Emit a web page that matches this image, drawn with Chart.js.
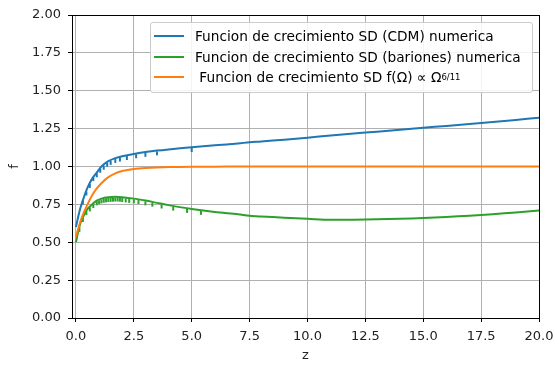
<!DOCTYPE html>
<html>
<head>
<meta charset="utf-8">
<script src="https://cdn.jsdelivr.net/npm/chart.js@4.4.1/dist/chart.umd.min.js"></script>
<style>
    html, body { margin: 0; padding: 0; background: #fff; }
    #wrap { position: relative; width: 555px; height: 367px; }
    #legend {
        position: absolute; left: 150px; top: 22px; width: 383px;
        background: rgba(255,255,255,0.85); border: 1px solid #cccccc; border-radius: 3px;
        font-family: "DejaVu Sans", sans-serif; font-size: 13.7px; color: #000;
        padding: 3px 0 4px 0; box-sizing: border-box;
    }
    .row { height: 20.5px; display: flex; align-items: center; white-space: nowrap; }
    .swatch { display: inline-block; width: 30px; height: 2px; margin: 0 11px 0 3px; }
    sup { font-size: 8.5px; vertical-align: 6px; line-height: 0; }
</style>
</head>
<body>
<div id="wrap">
    <canvas id="chart" width="555" height="367"></canvas>
    <div id="legend">
        <div class="row"><span class="swatch" style="background:#1f77b4"></span>Funcion de crecimiento SD (CDM) numerica</div>
        <div class="row"><span class="swatch" style="background:#2ca02c"></span>Funcion de crecimiento SD (bariones) numerica</div>
        <div class="row"><span class="swatch" style="background:#ff7f0e"></span>&nbsp;Funcion de crecimiento SD f(Ω) ∝ Ω<sup>6/11</sup></div>
    </div>
</div>
<script>
var zValues = [0, 0.1, 0.2, 0.35, 0.5, 0.7, 0.9, 1.1, 1.4, 1.7, 2.0, 2.5, 3.0, 3.5, 4, 5, 6, 7, 7.5, 8, 9, 10, 11, 12, 13, 14, 15, 16, 17, 18, 19, 20];

var cdmValues = [0.60, 0.67, 0.73, 0.80, 0.86, 0.92, 0.96, 1.0, 1.035, 1.055, 1.068, 1.083, 1.095, 1.105, 1.113, 1.127, 1.14, 1.152, 1.16, 1.165, 1.177, 1.19, 1.205, 1.218, 1.23, 1.243, 1.256, 1.268, 1.28, 1.293, 1.307, 1.322];

var barionValues = [0.50, 0.57, 0.63, 0.68, 0.72, 0.75, 0.775, 0.788, 0.797, 0.80, 0.797, 0.788, 0.775, 0.76, 0.745, 0.72, 0.70, 0.685, 0.675, 0.67, 0.662, 0.655, 0.648, 0.649, 0.651, 0.655, 0.66, 0.667, 0.675, 0.685, 0.697, 0.71];

var omegaValues = [0.535, 0.59, 0.64, 0.70, 0.75, 0.81, 0.855, 0.89, 0.93, 0.955, 0.97, 0.983, 0.99, 0.994, 0.996, 0.998, 0.999, 1.0, 1.0, 1.0, 1.0, 1.0, 1.0, 1.0, 1.0, 1.0, 1.0, 1.0, 1.0, 1.0, 1.0, 1.0];

// small dashes hanging under the numeric curves
var cdmTickZ = [0.3, 0.45, 0.6, 0.75, 0.9, 1.05, 1.2, 1.35, 1.5, 1.7, 1.9, 2.2, 2.6, 3.0, 3.5, 5.0];
var cdmTickF = [0.762, 0.822, 0.872, 0.917, 0.942, 0.972, 0.992, 1.012, 1.024, 1.037, 1.046, 1.056, 1.068, 1.077, 1.087, 1.109];
var barionTickZ = [0.15, 0.3, 0.45, 0.6, 0.75, 0.9, 1.0, 1.1, 1.2, 1.3, 1.4, 1.5, 1.6, 1.7, 1.8, 1.9, 2.0, 2.15, 2.3, 2.5, 2.7, 3.0, 3.3, 3.7, 4.2, 4.8, 5.4];
var barionTickF = [0.582, 0.647, 0.692, 0.717, 0.739, 0.757, 0.764, 0.770, 0.774, 0.777, 0.779, 0.780, 0.781, 0.782, 0.782, 0.781, 0.779, 0.776, 0.773, 0.770, 0.765, 0.757, 0.748, 0.736, 0.722, 0.707, 0.694];

var xTicks = [0, 2.5, 5, 7.5, 10, 12.5, 15, 17.5, 20];
var yTicks = [0, 0.25, 0.5, 0.75, 1.0, 1.25, 1.5, 1.75, 2.0];

function points(xs, ys) {
    return xs.map(function (x, i) { return { x: x, y: ys[i] }; });
}

function lineSet(data, color, order) {
    return {
        data: data, borderColor: color, backgroundColor: color,
        borderWidth: 2, pointRadius: 0, tension: 0.3, fill: false, order: order
    };
}

function tickSet(data, color, order) {
    return {
        data: data, borderColor: color, backgroundColor: color, showLine: false,
        pointStyle: 'line', rotation: 90, pointRadius: 2, borderWidth: 2, order: order
    };
}

var frame = {
    id: 'frame',
    afterDraw: function (chart) {
        var a = chart.chartArea, c = chart.ctx;
        c.save();
        c.strokeStyle = '#000';
        c.lineWidth = 1;
        c.strokeRect(Math.round(a.left) + 0.5, Math.round(a.top) + 0.5, Math.round(a.right - a.left), Math.round(a.bottom - a.top));
        c.restore();
    }
};

Chart.defaults.font.family = '"DejaVu Sans", sans-serif';
Chart.defaults.font.size = 13;
Chart.defaults.color = '#222';

new Chart(document.getElementById('chart'), {
    type: 'line',
    data: {
        datasets: [
            lineSet(points(zValues, cdmValues), '#1f77b4', 5),
            tickSet(points(cdmTickZ, cdmTickF), '#1f77b4', 4),
            lineSet(points(zValues, barionValues), '#2ca02c', 3),
            tickSet(points(barionTickZ, barionTickF), '#2ca02c', 2),
            lineSet(points(zValues, omegaValues), '#ff7f0e', 1)
        ]
    },
    options: {
        responsive: false,
        animation: false,
        layout: { padding: { top: 15, right: 16, left: 7, bottom: 0 } },
        plugins: { legend: { display: false }, tooltip: { enabled: false } },
        scales: {
            x: {
                type: 'linear', min: -0.17, max: 20,
                afterBuildTicks: function (s) { s.ticks = xTicks.map(function (v) { return { value: v }; }); },
                afterFit: function (s) { s.height = 49; s.paddingLeft = 0; s.paddingRight = 0; },
                ticks: { callback: function (v) { return v.toFixed(1); }, color: '#222', padding: 7, maxRotation: 0 },
                grid: { color: '#b0b0b0', tickColor: '#000', tickLength: 4, lineWidth: 1 },
                border: { color: '#000' },
                title: { display: true, text: 'z', color: '#222', padding: { top: 0, bottom: 4 } }
            },
            y: {
                min: 0, max: 2,
                afterBuildTicks: function (s) { s.ticks = yTicks.map(function (v) { return { value: v }; }); },
                afterFit: function (s) { s.width = 65; s.paddingTop = 0; s.paddingBottom = 0; },
                ticks: { callback: function (v) { return v.toFixed(2); }, color: '#222', padding: 7 },
                grid: { color: '#b0b0b0', tickColor: '#000', tickLength: 4, lineWidth: 1 },
                border: { color: '#000' },
                title: { display: true, text: 'f', color: '#222', padding: { top: 0, bottom: 0 } }
            }
        }
    },
    plugins: [frame]
});
</script>
</body>
</html>
